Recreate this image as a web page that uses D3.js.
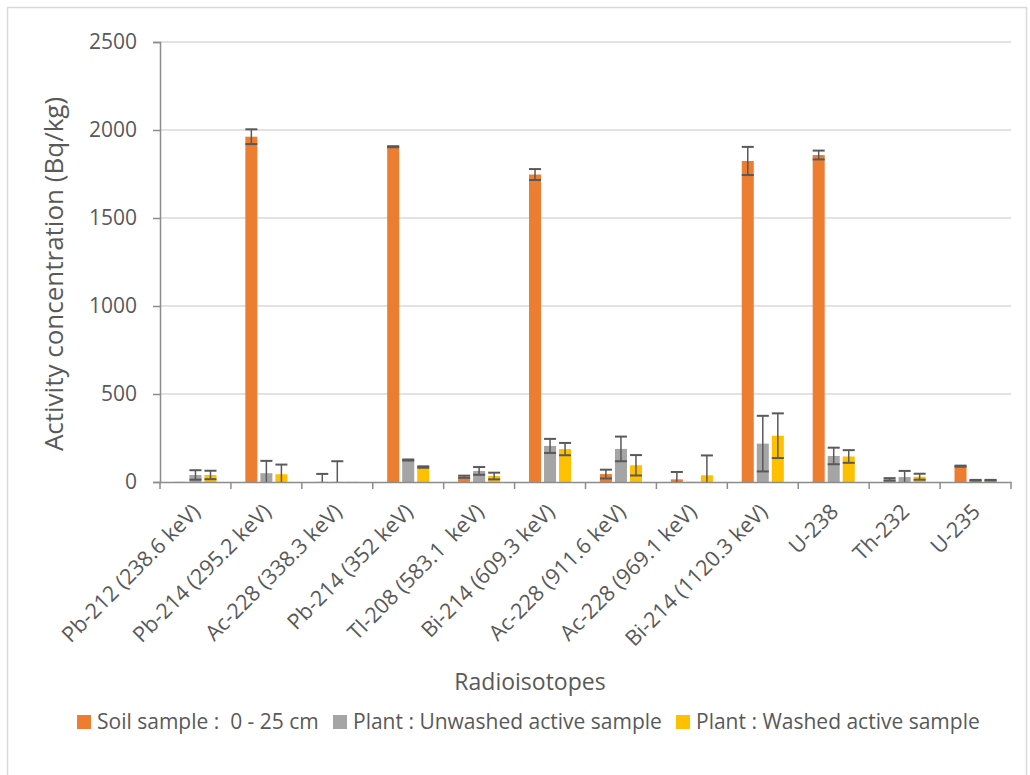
<!DOCTYPE html>
<html>
<head>
<meta charset="utf-8">
<script src="https://cdn.jsdelivr.net/npm/d3@7"></script>
<style>
  body { margin: 0; background: #fff; }
  text { font-family: "Open Sans", sans-serif; fill: #595959; white-space: pre; }
</style>
</head>
<body>
<svg id="chart" width="1030" height="775"></svg>
<script>
// categories on the x axis
const isotopes = ["Pb-212 (238.6 keV)", "Pb-214 (295.2 keV)", "Ac-228 (338.3 keV)", "Pb-214 (352 keV)",
    "Tl-208 (583.1  keV)", "Bi-214 (609.3 keV)", "Ac-228 (911.6 keV)", "Ac-228 (969.1 keV)",
    "Bi-214 (1120.3 keV)", "U-238", "Th-232", "U-235"];

const seriesNames = ["Soil sample :  0 - 25 cm", "Plant : Unwashed active sample", "Plant : Washed active sample"];
const seriesColors = ["#ED7D31", "#A5A5A5", "#FFC000"];

// values in Bq/kg
const soil = [1, 1962, 1, 1905, 30, 1747, 45, 15, 1824, 1858, 15, 90];
const soilErr = [0, 42, 45, 3, 6, 31, 25, 42, 80, 25, 7, 3];
const unwashed = [40, 50, 1, 125, 63, 205, 188, 1, 218, 148, 28, 10];
const unwashedErr = [27, 70, 117, 3, 22, 40, 70, 0, 158, 47, 35, 2];
const washed = [40, 44, 1, 85, 34, 187, 95, 38, 263, 145, 30, 10];
const washedErr = [24, 55, 0, 4, 19, 35, 58, 113, 127, 36, 17, 2];

const yTicks = [0, 500, 1000, 1500, 2000, 2500];

const values = [soil, unwashed, washed];
const errors = [soilErr, unwashedErr, washedErr];

const margin = {left: 160, right: 1011, top: 42, bottom: 482};

let svg = d3.select("#chart");

// chart frame
svg.append("rect")
    .attr("x", 7.5).attr("y", 7.5)
    .attr("width", 1019).attr("height", 820)
    .attr("fill", "none")
    .attr("stroke", "#d9d9d9")
    .attr("stroke-width", 1.5);

let x0 = d3.scaleBand().domain(isotopes).range([margin.left, margin.right]);
let x1 = d3.scaleBand().domain(d3.range(3)).range([0, x0.bandwidth()])
    .paddingInner(0.2).paddingOuter(0.96);
let y = d3.scaleLinear().domain([0, 2500]).range([margin.bottom, margin.top]);

// gridlines
svg.append("g")
    .selectAll("line")
    .data(yTicks.filter(d => d > 0))
    .enter().append("line")
    .attr("x1", margin.left).attr("x2", margin.right)
    .attr("y1", d => y(d)).attr("y2", d => y(d))
    .attr("stroke", "#d9d9d9")
    .attr("stroke-width", 1.5);

svg.append("clipPath").attr("id", "plotClip")
    .append("rect")
    .attr("x", margin.left).attr("y", 0)
    .attr("width", margin.right - margin.left).attr("height", margin.bottom);

let plot = svg.append("g").attr("clip-path", "url(#plotClip)");

// bars
values.forEach(function (vals, s) {
    plot.append("g")
        .selectAll("rect")
        .data(vals)
        .enter().append("rect")
        .attr("x", (d, i) => x0(isotopes[i]) + x1(s))
        .attr("width", x1.bandwidth())
        .attr("y", d => y(d))
        .attr("height", d => y(0) - y(d))
        .attr("fill", seriesColors[s]);
});

// error bars
values.forEach(function (vals, s) {
    let g = plot.append("g");
    vals.forEach(function (v, i) {
        let e = errors[s][i];
        if (e <= 0) return;
        let cx = x0(isotopes[i]) + x1(s) + x1.bandwidth() / 2;
        let half = x1.bandwidth() / 2;
        g.append("line")
            .attr("x1", cx).attr("x2", cx)
            .attr("y1", y(v + e)).attr("y2", y(v - e))
            .attr("stroke", "#595959").attr("stroke-width", 1.5);
        [v + e, v - e].forEach(function (end) {
            g.append("line")
                .attr("x1", cx - half).attr("x2", cx + half)
                .attr("y1", y(end)).attr("y2", y(end))
                .attr("stroke", "#595959").attr("stroke-width", 2);
        });
    });
});

// y axis
let yAxis = svg.append("g")
    .attr("transform", "translate(" + margin.left + ",0)")
    .call(d3.axisLeft(y).tickValues(yTicks).tickFormat(d3.format("d")).tickSize(7).tickPadding(16));
yAxis.select(".domain").attr("stroke", "#8c8c8c").attr("stroke-width", 1.5);
yAxis.selectAll(".tick line").attr("stroke", "#8c8c8c").attr("stroke-width", 1.5);
yAxis.selectAll(".tick text")
    .style("font-family", "Open Sans").style("font-size", "21px").attr("fill", "#595959");

// x axis
let xAxis = svg.append("g")
    .attr("transform", "translate(0," + margin.bottom + ")")
    .call(d3.axisBottom(x0).tickSize(0).tickFormat(""));
xAxis.select(".domain").attr("stroke", "#8c8c8c").attr("stroke-width", 1.5);

// category boundary ticks
let bounds = isotopes.map(d => x0(d)).concat([margin.right]);
xAxis.selectAll(".bound")
    .data(bounds)
    .enter().append("line")
    .attr("x1", d => d).attr("x2", d => d)
    .attr("y1", 0).attr("y2", 7)
    .attr("stroke", "#8c8c8c").attr("stroke-width", 1.5);

xAxis.selectAll(".xlabel")
    .data(isotopes)
    .enter().append("text")
    .attr("transform", d => "translate(" + (x0(d) + x0.bandwidth() / 2 + 6) + ",31) rotate(-45)")
    .attr("text-anchor", "end")
    .style("font-size", "21.5px")
    .text(d => d);

// axis titles
svg.append("text")
    .attr("transform", "translate(63,274) rotate(-90)")
    .attr("text-anchor", "middle")
    .style("font-size", "26px")
    .text("Activity concentration (Bq/kg)");

svg.append("text")
    .attr("x", 530).attr("y", 690)
    .attr("text-anchor", "middle")
    .style("font-size", "23px")
    .text("Radioisotopes");

// legend
let legendX = [77, 333, 676];
let legend = svg.append("g");
seriesNames.forEach(function (name, s) {
    legend.append("rect")
        .attr("x", legendX[s]).attr("y", 715)
        .attr("width", 14).attr("height", 14)
        .attr("fill", seriesColors[s]);
    legend.append("text")
        .attr("x", legendX[s] + 20).attr("y", 729)
        .style("font-size", "21px")
        .text(name);
});
</script>
</body>
</html>
